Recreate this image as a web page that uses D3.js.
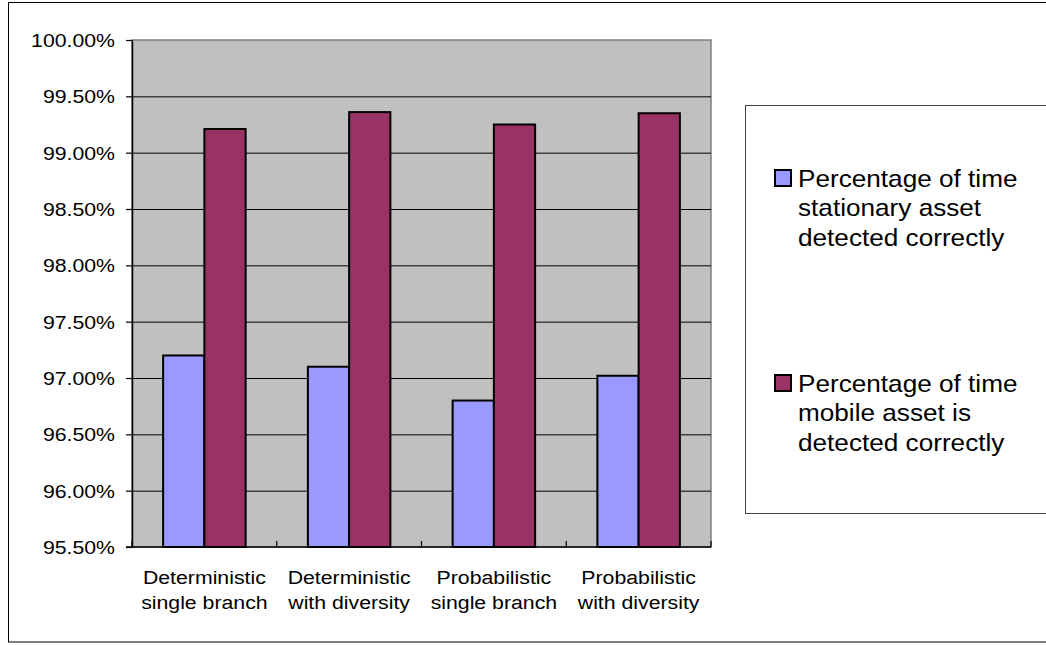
<!DOCTYPE html>
<html>
<head>
<meta charset="utf-8">
<script src="https://cdn.jsdelivr.net/npm/d3@7"></script>
<style>
  body { margin: 0; background: #fff; }
  svg { display: block; font-family: "Liberation Sans", Arial, sans-serif; }
</style>
</head>
<body>
<svg id="chart" width="1046" height="645"></svg>
<script>

// categories (two lines each) and the two series
var categories = ['Deterministic single branch', 'Deterministic with diversity', 'Probabilistic single branch', 'Probabilistic with diversity'];
var category_lines = [['Deterministic', 'single branch'], ['Deterministic', 'with diversity'], ['Probabilistic', 'single branch'], ['Probabilistic', 'with diversity']];
var series_names = ['stationary', 'mobile'];
var stationary = [97.20, 97.10, 96.80, 97.02];
var mobile = [99.21, 99.36, 99.25, 99.35];
var y_ticks = [95.5, 96.0, 96.5, 97.0, 97.5, 98.0, 98.5, 99.0, 99.5, 100.0];
var legend_lines = [['Percentage of time', 'stationary asset', 'detected correctly'],
                    ['Percentage of time', 'mobile asset is', 'detected correctly']];

var colors = { 'stationary': '#9999ff', 'mobile': '#993366' };
var sx = 1.12;   // the picture is a bit wider than tall

var svg = d3.select('#chart');

// outer frame of the chart
svg.append('rect')
    .attr('x', 8.5).attr('y', 2.5)
    .attr('width', 1060).attr('height', 639.5)
    .attr('fill', '#fff').attr('stroke', '#000').attr('stroke-width', 1);

var plot = { left: 132, right: 711, top: 40, bottom: 547 };

var y = d3.scaleLinear().domain([95.5, 100]).range([plot.bottom, plot.top]);
var x0 = d3.scaleBand().domain(categories).range([plot.left, plot.right])
    .paddingInner(0.43).paddingOuter(0.215);
var x1 = d3.scaleBand().domain(series_names).range([0, x0.bandwidth()]);

// plot area
svg.append('rect')
    .attr('x', plot.left).attr('y', plot.top)
    .attr('width', plot.right - plot.left).attr('height', plot.bottom - plot.top)
    .attr('fill', '#c0c0c0').attr('stroke', '#808080').attr('stroke-width', 1.5);

// grid lines
svg.append('g').selectAll('line')
    .data(y_ticks.slice(1, -1))
    .enter().append('line')
    .attr('x1', plot.left).attr('x2', plot.right)
    .attr('y1', function(d){ return y(d) + 0.5; })
    .attr('y2', function(d){ return y(d) + 0.5; })
    .attr('stroke', '#000').attr('stroke-width', 1);

// bars
var rows = categories.map(function(c, i){
    return { cat: c, vals: [{ s: 'stationary', v: stationary[i] }, { s: 'mobile', v: mobile[i] }] };
});

svg.append('g').selectAll('g')
    .data(rows)
    .enter().append('g')
    .attr('transform', function(d){ return 'translate(' + x0(d.cat) + ',0)'; })
    .selectAll('rect')
    .data(function(d){ return d.vals; })
    .enter().append('rect')
    .attr('x', function(d){ return x1(d.s); })
    .attr('y', function(d){ return y(d.v); })
    .attr('width', x1.bandwidth())
    .attr('height', function(d){ return y(95.5) - y(d.v); })
    .attr('fill', function(d){ return colors[d.s]; })
    .attr('stroke', '#000').attr('stroke-width', 2);

// y axis
var yAxis = d3.axisLeft(y).tickValues(y_ticks).tickSizeOuter(0).tickSizeInner(6)
    .tickFormat(function(d){ return d.toFixed(2) + '%'; });
var gy = svg.append('g').attr('transform', 'translate(' + plot.left + ',0)').call(yAxis);
gy.select('.domain').attr('stroke', '#000').attr('stroke-width', 1.5);
gy.selectAll('.tick line').attr('stroke', '#000').attr('stroke-width', 1.2);
gy.selectAll('.tick text')
    .attr('x', -17 / sx).attr('dy', '0.35em')
    .attr('transform', 'scale(' + sx + ',1)')
    .style('font-size', '19px').style('font-family', '"Liberation Sans", Arial, sans-serif')
    .attr('fill', '#000');

// x axis line and the small inside ticks between groups
svg.append('line')
    .attr('x1', plot.left - 6).attr('x2', plot.right)
    .attr('y1', plot.bottom).attr('y2', plot.bottom)
    .attr('stroke', '#000').attr('stroke-width', 1.5);

var bounds = categories.map(function(c){ return x0(c) - x0.step() * x0.paddingInner() / 2; });
bounds.push(plot.right);
svg.append('g').selectAll('line')
    .data(bounds)
    .enter().append('line')
    .attr('x1', function(d){ return d; }).attr('x2', function(d){ return d; })
    .attr('y1', plot.bottom).attr('y2', plot.bottom - 6)
    .attr('stroke', '#000').attr('stroke-width', 1.2);

// category labels
var cl = svg.append('g').selectAll('g')
    .data(categories)
    .enter().append('g')
    .attr('transform', function(d){ return 'translate(' + (x0(d) + x0.bandwidth() / 2) + ',0) scale(' + sx + ',1)'; });
cl.each(function(d, i){
    var g = d3.select(this);
    category_lines[i].forEach(function(t, k){
        g.append('text')
            .attr('x', 0).attr('y', 584.5 + k * 25)
            .attr('text-anchor', 'middle')
            .style('font-size', '19px')
            .text(t);
    });
});

// legend
svg.append('rect')
    .attr('x', 745.5).attr('y', 105.5)
    .attr('width', 310).attr('height', 408)
    .attr('fill', '#fff').attr('stroke', '#404040').attr('stroke-width', 1);

var legend_top = [169, 374];
series_names.forEach(function(s, i){
    svg.append('rect')
        .attr('x', 775).attr('y', legend_top[i] + 1)
        .attr('width', 16).attr('height', 16)
        .attr('fill', colors[s]).attr('stroke', '#000').attr('stroke-width', 2);
    legend_lines[i].forEach(function(t, k){
        svg.append('text')
            .attr('transform', 'translate(798,' + (legend_top[i] + 17.7 + k * 29.7) + ') scale(1.09,1)')
            .style('font-size', '24px')
            .text(t);
    });
});

</script>
</body>
</html>
